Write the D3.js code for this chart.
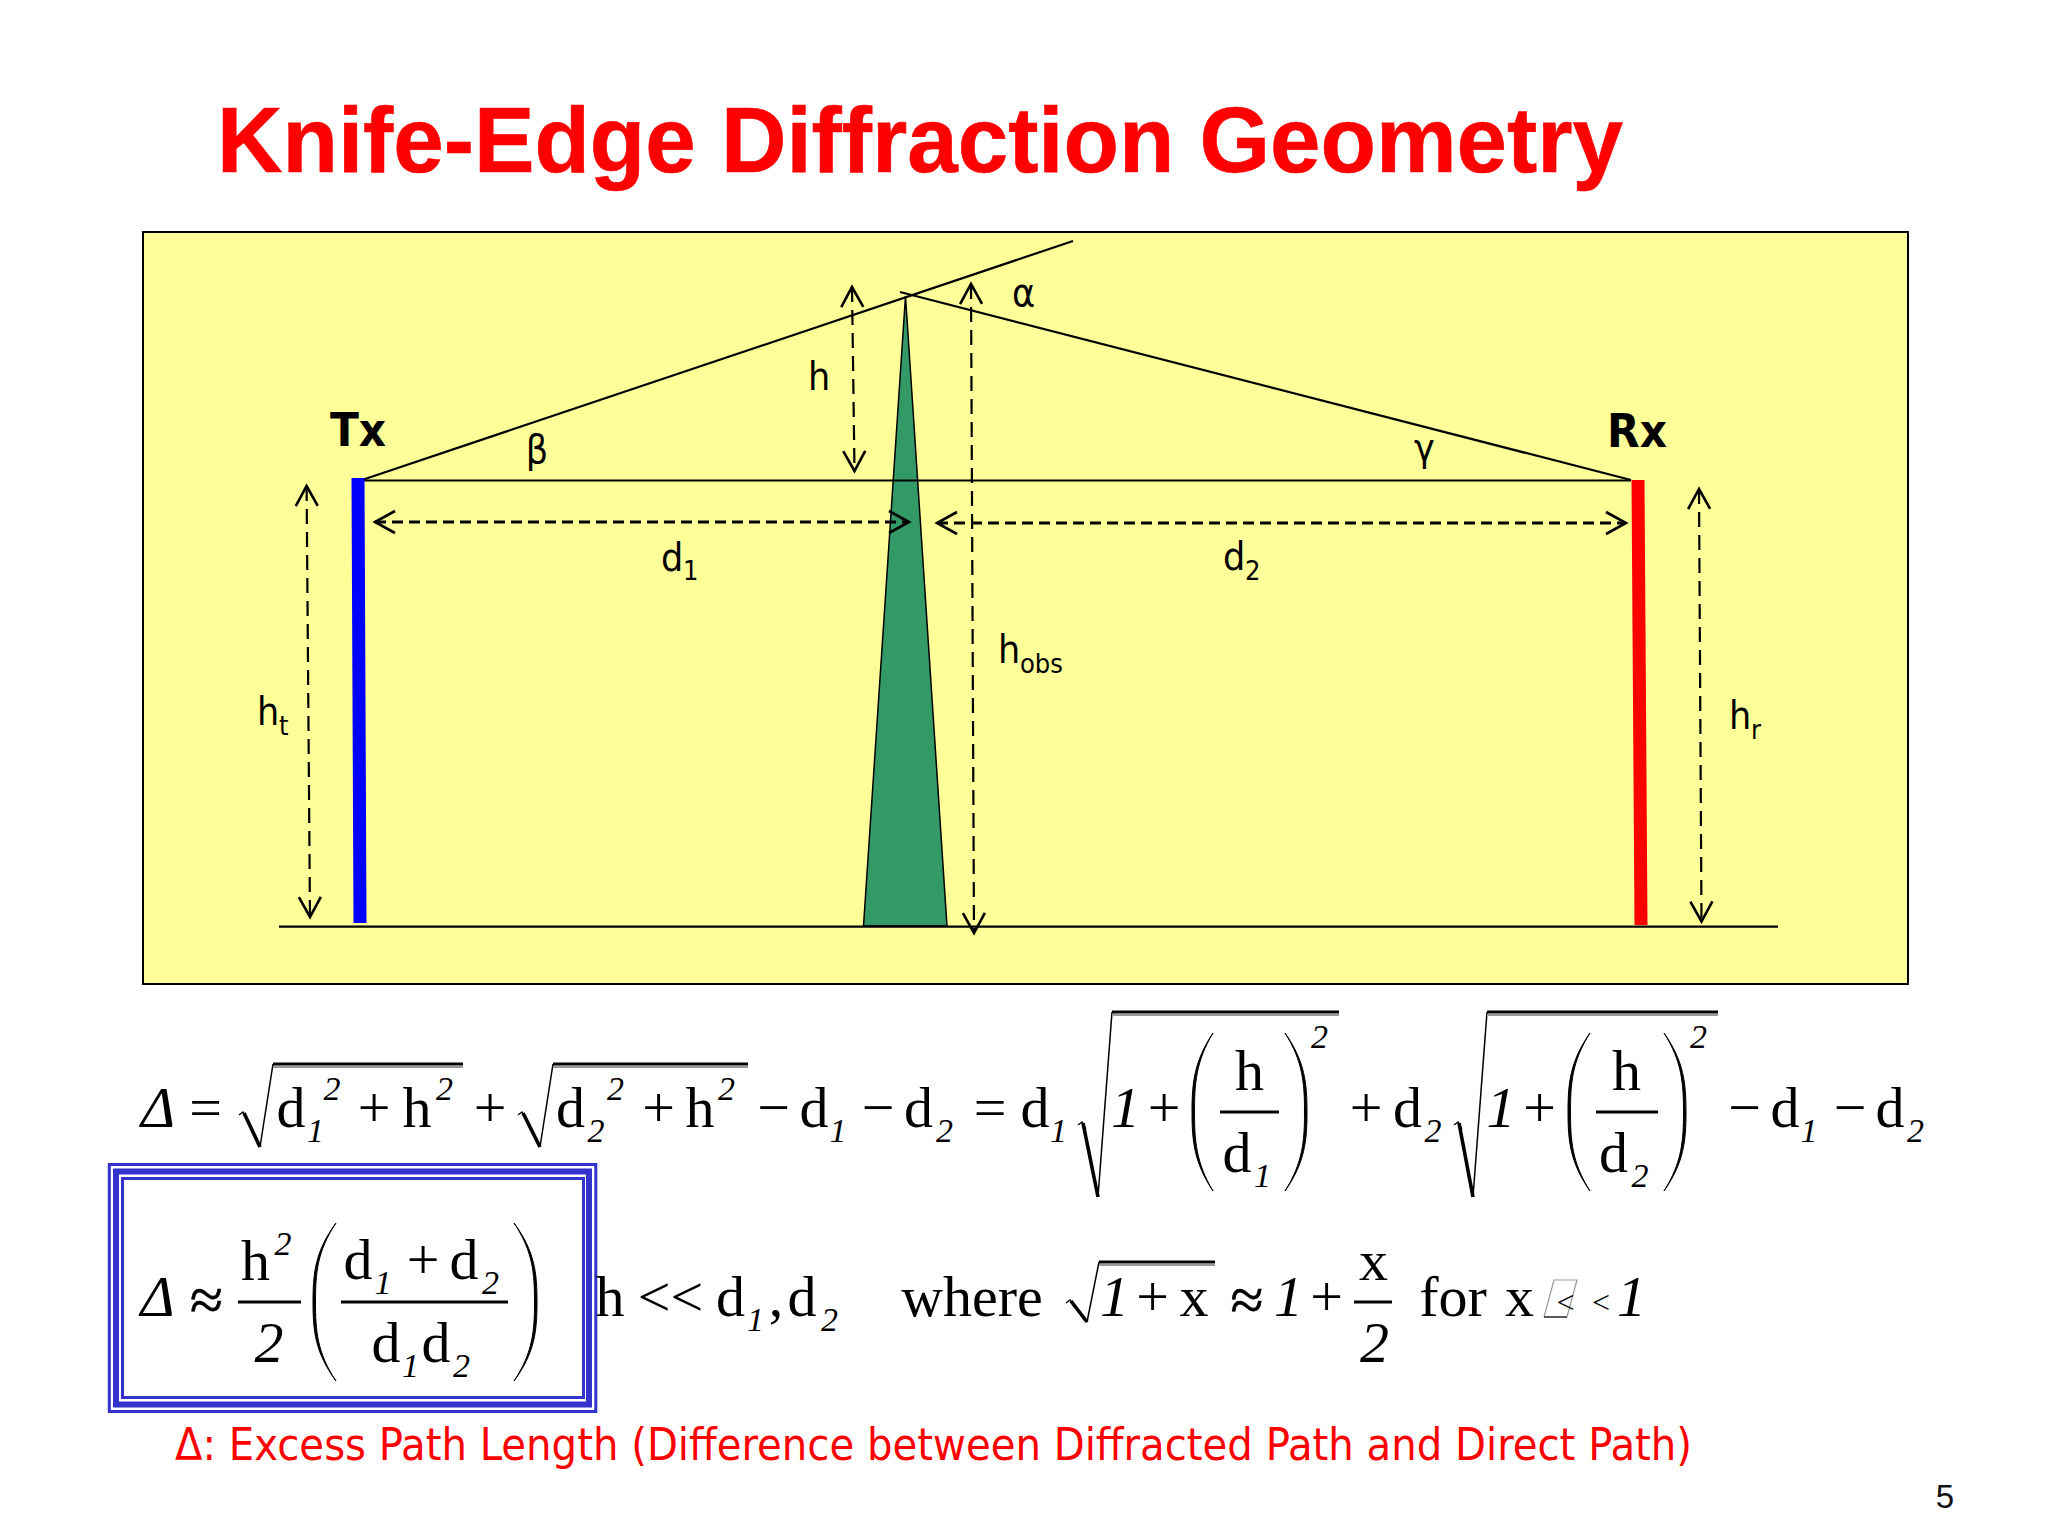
<!DOCTYPE html>
<html>
	<head>
		<meta charset="utf-8">
		<title>Knife-Edge Diffraction Geometry</title>
		<style>
			html,body{margin:0;padding:0;background:#fff;}
			svg{display:block;}
		</style>
	</head>
	<body>
		<script src="https://cdn.jsdelivr.net/npm/d3@7"></script>
		<script>
			//diagram values: [distance from Tx, height above ground]
			var txPole = [[-2,448],[0,3]];
			var rxPole = [[1278,446],[1281,1]];
			var ground = [[-81,-0.7],[1418,-0.7]];
			var directPath = [[2,445.5],[1271,445.5]];
			var incidentRay = [[2,446],[713,685]];
			var diffractedRay = [[540,634],[1271,446]];
			var obstacle = [[503.5,0],[545.5,630],[587,0]];

			//two headed dashed arrows
			var arrowNames = ["h","hobs","ht","hr","d1","d2"];
			var arrowStart = [[492,639],[611,642],[-53.4,440],[1339,437],[15,404],[577,403]];
			var arrowEnd = [[494.5,455],[614,-7],[-50,9],[1341.5,4.5],[549,404],[1266,403]];

			//text
			var titleText = "Knife-Edge Diffraction Geometry";
			var noteText = "Δ: Excess Path Length (Difference between Diffracted Path and Direct Path)";
			var pageNumber = "5";
			var stationNames = ["Tx","Rx"];
			var angleNames = ["α","β","γ"];

			var width = 2048, height = 1536;
			var svg = d3.select("body").append("svg")
				.attr("width",width)
				.attr("height",height);

			//比例尺
			var xScale = d3.scaleLinear().domain([0,1280]).range([360,1640]);
			var yScale = d3.scaleLinear().domain([0,446]).range([926,480]);
			var line = d3.line()
				.x(function(d){return xScale(d[0]);})
				.y(function(d){return yScale(d[1]);});

			var sansFont = "'DejaVu Sans Condensed','DejaVu Sans'";
			var serifFont = "'Liberation Serif'";

			function label(g,str,x,y,size,opts){
				opts = opts || {};
				var t = g.append("text")
					.attr("x",x).attr("y",y)
					.attr("font-size",size)
					.attr("font-family",opts.font || serifFont)
					.attr("font-stretch",opts.font == sansFont ? "condensed" : null)
					.attr("text-anchor",opts.anchor || "middle")
					.attr("fill",opts.fill || "#000")
					.text(str);
				if(opts.italic) t.attr("font-style","italic");
				if(opts.bold) t.attr("font-weight","bold");
				if(opts.fit) t.attr("textLength",opts.fit).attr("lengthAdjust","spacingAndGlyphs");
				if(opts.heavy) t.attr("stroke",opts.fill || "#000").attr("stroke-width",opts.heavy);
				return t;
			}

			//title
			label(svg,titleText,217,172,92,{font:"'Liberation Sans'",bold:true,anchor:"start",fill:"#ff0000",fit:1406,heavy:0.6});

			//diagram
			var diagram = svg.append("g");
			diagram.append("rect")
				.attr("x",143).attr("y",232)
				.attr("width",1765).attr("height",752)
				.attr("fill","#ffff99")
				.attr("stroke","#000")
				.attr("stroke-width",2);

			diagram.append("path").datum(obstacle.concat([obstacle[0]]))
				.attr("d",line)
				.attr("fill","#339966")
				.attr("stroke","#000")
				.attr("stroke-width",1.5);

			[ground,directPath,incidentRay,diffractedRay].forEach(function(seg){
				diagram.append("path").datum(seg)
					.attr("d",line)
					.attr("fill","none")
					.attr("stroke","#000")
					.attr("stroke-width",2.2);
			});

			[[txPole,"#0000ff"],[rxPole,"#ff0000"]].forEach(function(p){
				diagram.append("path").datum(p[0])
					.attr("d",line)
					.attr("fill","none")
					.attr("stroke",p[1])
					.attr("stroke-width",13);
			});

			//open arrow heads
			function drawArrow(a,b){
				var ax = xScale(a[0]), ay = yScale(a[1]), bx = xScale(b[0]), by = yScale(b[1]);
				var len = Math.sqrt((bx-ax)*(bx-ax)+(by-ay)*(by-ay));
				var ux = (bx-ax)/len, uy = (by-ay)/len;
				var isHorizontal = Math.abs(ux) > 0.5;
				diagram.append("line")
					.attr("x1",ax).attr("y1",ay).attr("x2",bx).attr("y2",by)
					.attr("stroke","#000")
					.attr("stroke-width",isHorizontal ? 3 : 2.2)
					.attr("stroke-dasharray",isHorizontal ? "11,6" : "15,8");
				[[ax,ay,ux,uy],[bx,by,-ux,-uy]].forEach(function(e){
					var l = 20, w = 11;
					var p = d3.path();
					p.moveTo(e[0]+e[2]*l-e[3]*w,e[1]+e[3]*l+e[2]*w);
					p.lineTo(e[0],e[1]);
					p.lineTo(e[0]+e[2]*l+e[3]*w,e[1]+e[3]*l-e[2]*w);
					diagram.append("path")
						.attr("d",p.toString())
						.attr("fill","none")
						.attr("stroke","#000")
						.attr("stroke-width",2.6);
				});
			}
			arrowNames.forEach(function(n,i){
				drawArrow(arrowStart[i],arrowEnd[i]);
			});

			var labelFont = {font:sansFont,anchor:"start"};
			var subFont = 27;
			function symbol(str,sub,x,y,subY){
				var t = label(diagram,str,x,y,39,labelFont);
				if(sub) label(diagram,sub,x+22,subY,subFont,labelFont);
				return t;
			}
			label(diagram,stationNames[0],358,446,47,{font:sansFont,bold:true});
			label(diagram,stationNames[1],1637,447,47,{font:sansFont,bold:true});
			label(diagram,angleNames[0],1023.5,306,39,{font:sansFont});
			label(diagram,angleNames[1],537,463,39,{font:sansFont});
			label(diagram,angleNames[2],1424.5,461,39,{font:sansFont});
			label(diagram,"h",819,390,39,{font:sansFont});
			symbol("d","1",661,571,580);
			symbol("d","2",1223,570,580);
			symbol("h","obs",998,663,673);
			symbol("h","t",257,725,735);
			symbol("h","r",1729,729,739);

			//formula helpers: centre x, baseline y
			var big = 58, small = 34;
			var formula = svg.append("g");
			function m(str,x,y,italic,size){
				label(formula,str,x,y,size || big,{italic:italic});
			}
			function subD(n,x,y,subX){
				m("d",x,y);
				m(n,subX,y+15,true,small);
			}
			function approx(x,y){
				label(formula,"≈",x,y,60,{heavy:0.6});
			}
			function radical(tipX,tipY,botX,botY,topX,topY,endX){
				var thin = d3.line();
				formula.append("path")
					.attr("d",thin([[tipX,tipY],[tipX+4,tipY-3],[tipX+8,tipY+4]]))
					.attr("fill","none").attr("stroke","#000").attr("stroke-width",1.3);
				formula.append("path")
					.attr("d",thin([[tipX+5,tipY-2],[botX,botY]]))
					.attr("fill","none").attr("stroke","#000").attr("stroke-width",3.6);
				formula.append("path")
					.attr("d",thin([[botX,botY],[topX,topY]]))
					.attr("fill","none").attr("stroke","#000").attr("stroke-width",1.5);
				formula.append("path")
					.attr("d",thin([[topX,topY+3],[endX,topY+3]]))
					.attr("fill","none").attr("stroke","#999").attr("stroke-width",2);
				formula.append("path")
					.attr("d",thin([[topX,topY],[endX,topY]]))
					.attr("fill","none").attr("stroke","#000").attr("stroke-width",3.2);
			}
			function bar(x1,x2,y){
				formula.append("line")
					.attr("x1",x1).attr("x2",x2).attr("y1",y).attr("y2",y)
					.attr("stroke","#000").attr("stroke-width",3);
			}
			function paren(x,top,bot,dir,w){
				//dir 1 opens to the right, w is how far the bow reaches
				var outer = x-dir*w, h = bot-top, p = d3.path();
				p.moveTo(x,top);
				p.bezierCurveTo(outer+dir*2,top+h*0.18,outer,top+h*0.32,outer,top+h*0.5);
				p.bezierCurveTo(outer,bot-h*0.32,outer+dir*2,bot-h*0.18,x,bot);
				p.bezierCurveTo(outer+dir*4,bot-h*0.18,outer+dir*2.5,bot-h*0.32,outer+dir*2.5,top+h*0.5);
				p.bezierCurveTo(outer+dir*2.5,top+h*0.32,outer+dir*4,top+h*0.18,x,top);
				formula.append("path").attr("d",p.toString())
					.attr("fill","#000").attr("stroke","#000").attr("stroke-width",1);
			}

			//row 1
			var y1 = 1127, supY1 = 1100;
			m("Δ",158,y1,true);
			m("=",205.5,y1);
			radical(239,1115,260,1147,273,1064,463);
			subD("1",291,y1,315.5);
			m("2",332,supY1,true,small);
			m("+",374,y1);
			m("h",417,y1);
			m("2",444.5,supY1,true,small);
			m("+",490,y1);
			radical(518,1115,540,1147,553,1064,748);
			subD("2",570.5,y1,596);
			m("2",615.5,supY1,true,small);
			m("+",658.5,y1);
			m("h",700,y1);
			m("2",726.5,supY1,true,small);
			m("−",773.5,y1);
			subD("1",814,y1,838);
			m("−",878,y1);
			subD("2",918.5,y1,944.5);
			m("=",990,y1);
			subD("1",1035,y1,1058.5);

			radical(1078,1125,1098,1197,1112,1012,1339);
			m("1",1125.5,y1,true);
			m("+",1164,y1);
			paren(1213,1033,1191,1,21);
			m("h",1249.5,1090);
			bar(1220,1279,1112);
			subD("1",1237,1172,1262.5);
			paren(1285,1033,1191,-1,22);
			m("2",1319.5,1048,true,small);
			m("+",1366,y1);
			subD("2",1407.5,y1,1433);

			radical(1454,1125,1473,1197,1487,1012,1718);
			m("1",1501,y1,true);
			m("+",1539.5,y1);
			paren(1590,1033,1191,1,22);
			m("h",1626.5,1090);
			bar(1596,1658,1112);
			subD("2",1613.5,1172,1640);
			paren(1664,1033,1191,-1,22);
			m("2",1698.5,1048,true,small);
			m("−",1744.5,y1);
			subD("1",1785,y1,1809);
			m("−",1850,y1);
			subD("2",1890,y1,1915.5);

			//boxed approximation
			var frameColor = "#3333cc";
			[[109.3,1164.5,486.5,247,3],[116,1171.5,473,233,6],[122.5,1178.5,461,219,3]].forEach(function(f){
				formula.append("rect")
					.attr("x",f[0]).attr("y",f[1]).attr("width",f[2]).attr("height",f[3])
					.attr("fill","none").attr("stroke",frameColor).attr("stroke-width",f[4]);
			});

			var y2 = 1316;
			m("Δ",157.5,y2,true);
			approx(206.5,1320);
			m("h",255.5,1280);
			m("2",283,1255,true,small);
			bar(238,301,1302);
			m("2",269,1362,true);
			paren(336,1223,1381,1,23);
			subD("1",358,1279,383);
			m("+",423,1279);
			subD("2",464,1279,490.5);
			bar(341,508,1302);
			subD("1",386,1362,410.5);
			subD("2",436,1362,461.5);
			paren(514,1223,1381,-1,23);

			m("h",610,y2);
			m("<<",670.5,y2);
			subD("1",730.5,y2,755.5);
			m(",",776,y2);
			subD("2",802,y2,829.5);

			m("where",972,y2);
			radical(1066,1303,1087,1322,1099,1262,1215);
			m("1",1114.5,y2,true);
			m("+",1152.5,y2);
			m("x",1194,y2);
			approx(1247,1320);
			m("1",1288.5,y2,true);
			m("+",1326.5,y2);
			m("x",1373.5,1280);
			bar(1354,1392,1302);
			m("2",1374.5,1362,true);
			m("for",1453,y2);
			m("x",1519.5,y2);

			//stray editing box around the first "<"
			formula.append("path")
				.attr("d",d3.line()([[1544,1317],[1554,1280],[1577,1280],[1567,1317],[1544,1317]]))
				.attr("fill","none").attr("stroke","#999").attr("stroke-width",1.2);
			formula.append("path")
				.attr("d",d3.line()([[1544,1317],[1567,1317]]))
				.attr("fill","none").attr("stroke","#333").attr("stroke-width",1.5);
			m("<",1565.5,1313,false,32);
			m("<",1601,1313,false,32);
			m("1",1631.5,y2,true);

			//note and page number
			label(svg,noteText,175,1460,45,{font:sansFont,anchor:"start",fill:"#ff0000",fit:1517});
			label(svg,pageNumber,1945,1508,33,{font:"'Liberation Sans'",fill:"#111"});
		</script>
	</body>
</html>
